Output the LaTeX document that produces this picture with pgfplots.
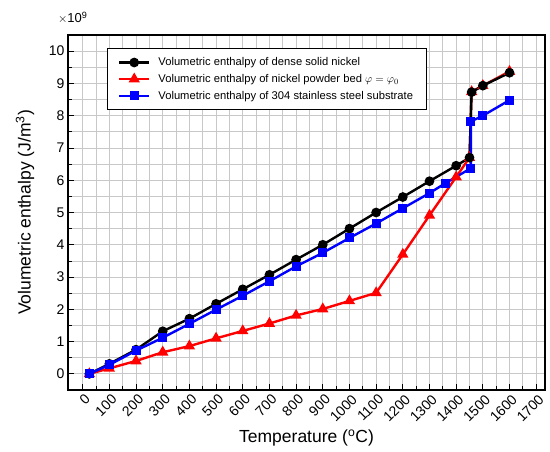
\documentclass[border=0pt]{standalone}
\usepackage{fontspec}
\setmainfont{Liberation Sans}
\usepackage{pgfplots}
\pgfplotsset{compat=1.18}

\definecolor{gridgray}{RGB}{200,200,200}

\begin{document}
\begin{tikzpicture}[x=1pt,y=1pt]
\useasboundingbox (0,0) rectangle (550,452);
\begin{axis}[
  at={(68pt,62pt)}, anchor=south west,
  width=477pt, height=355pt, scale only axis,
  xmin=-55, xmax=1733, ymin=-0.5, ymax=10.5,
  xtick={0,100,...,1700}, ytick={0,1,...,10},
  minor x tick num=1, minor y tick num=1,
  xtick pos=bottom, ytick pos=left,
  tick align=inside,
  major tick length=6pt, minor tick length=4pt,
  every tick/.style={black, line width=0.8pt},
  grid=both,
  major grid style={gridgray, line width=0.8pt},
  minor grid style={gridgray, line width=0.8pt},
  axis line style={black, line width=1.2pt},
  /pgf/number format/assume math mode=true,
  /pgf/number format/1000 sep={},
  tick label style={font=\fontsize{14}{16}\selectfont},
  x tick label style={rotate=45, anchor=north east, xshift=2pt},
  xlabel={Temperature (\textsuperscript{o}C)},
  ylabel={Volumetric enthalpy (J/m\textsuperscript{3})},
  label style={font=\fontsize{17.5}{20}\selectfont},
  xlabel style={at={(axis description cs:0.5,-0.135)}, anchor=center},
  ylabel style={at={(axis description cs:-0.09,0.5)}, anchor=center},
  legend style={at={(0.081,0.9625)}, anchor=north west, draw=black,
    line width=0.8pt, font=\fontsize{11.2}{13}\selectfont,
    inner xsep=11pt, inner ysep=7pt, row sep=3pt,
    cells={anchor=west},
    /tikz/every odd column/.append style={column sep=6pt}},
  legend image code/.code={%
    \draw[mark repeat=2, mark phase=2] plot coordinates {(0pt,0pt) (15pt,0pt) (30pt,0pt)};},
  clip=false,
]

% legend entries, listed in the usual order
\addlegendimage{black, line width=2.4pt, mark=*, mark size=3.6pt}
\addlegendentry{Volumetric enthalpy of dense solid nickel}
\addlegendimage{red, line width=2.4pt, mark=triangle*, mark size=4.2pt}
\addlegendentry{Volumetric enthalpy of nickel powder bed $\varphi=\varphi_0$}
\addlegendimage{blue, line width=2.4pt, mark=square*, mark size=3.3pt}
\addlegendentry{Volumetric enthalpy of 304 stainless steel substrate}

% nickel powder bed
\addplot[forget plot, red, line width=2.4pt, mark=triangle*, mark size=4.2pt] coordinates {
  (25,0) (100,0.17) (200,0.40) (300,0.67) (400,0.86) (500,1.10) (600,1.33)
  (700,1.56) (800,1.81) (900,2.01) (1000,2.26) (1100,2.51) (1200,3.70)
  (1300,4.91) (1400,6.10) (1450,6.70) (1458,8.74) (1500,8.93) (1600,9.37)
};

% dense solid nickel
\addplot[forget plot, black, line width=2.4pt, mark=*, mark size=3.6pt] coordinates {
  (25,0) (100,0.31) (200,0.75) (300,1.32) (400,1.71) (500,2.17) (600,2.62)
  (700,3.07) (800,3.54) (900,4.00) (1000,4.50) (1100,5.00) (1200,5.48)
  (1300,5.97) (1400,6.45) (1450,6.70) (1458,8.73) (1500,8.93) (1600,9.33)
};

% 304 stainless steel substrate
\addplot[forget plot, blue, line width=2.4pt, mark=square*, mark size=3.3pt] coordinates {
  (25,0) (100,0.28) (200,0.72) (300,1.12) (400,1.55) (500,1.99) (600,2.42)
  (700,2.87) (800,3.33) (900,3.75) (1000,4.21) (1100,4.66) (1200,5.13)
  (1300,5.60) (1360,5.91) (1455,6.37) (1455,7.82) (1500,8.00) (1600,8.48)
};

\node[font=\fontsize{13}{15}\selectfont] at (axis description cs:0.01,1.048) {$\times$10\textsuperscript{9}};
\end{axis}
\end{tikzpicture}
\end{document}
